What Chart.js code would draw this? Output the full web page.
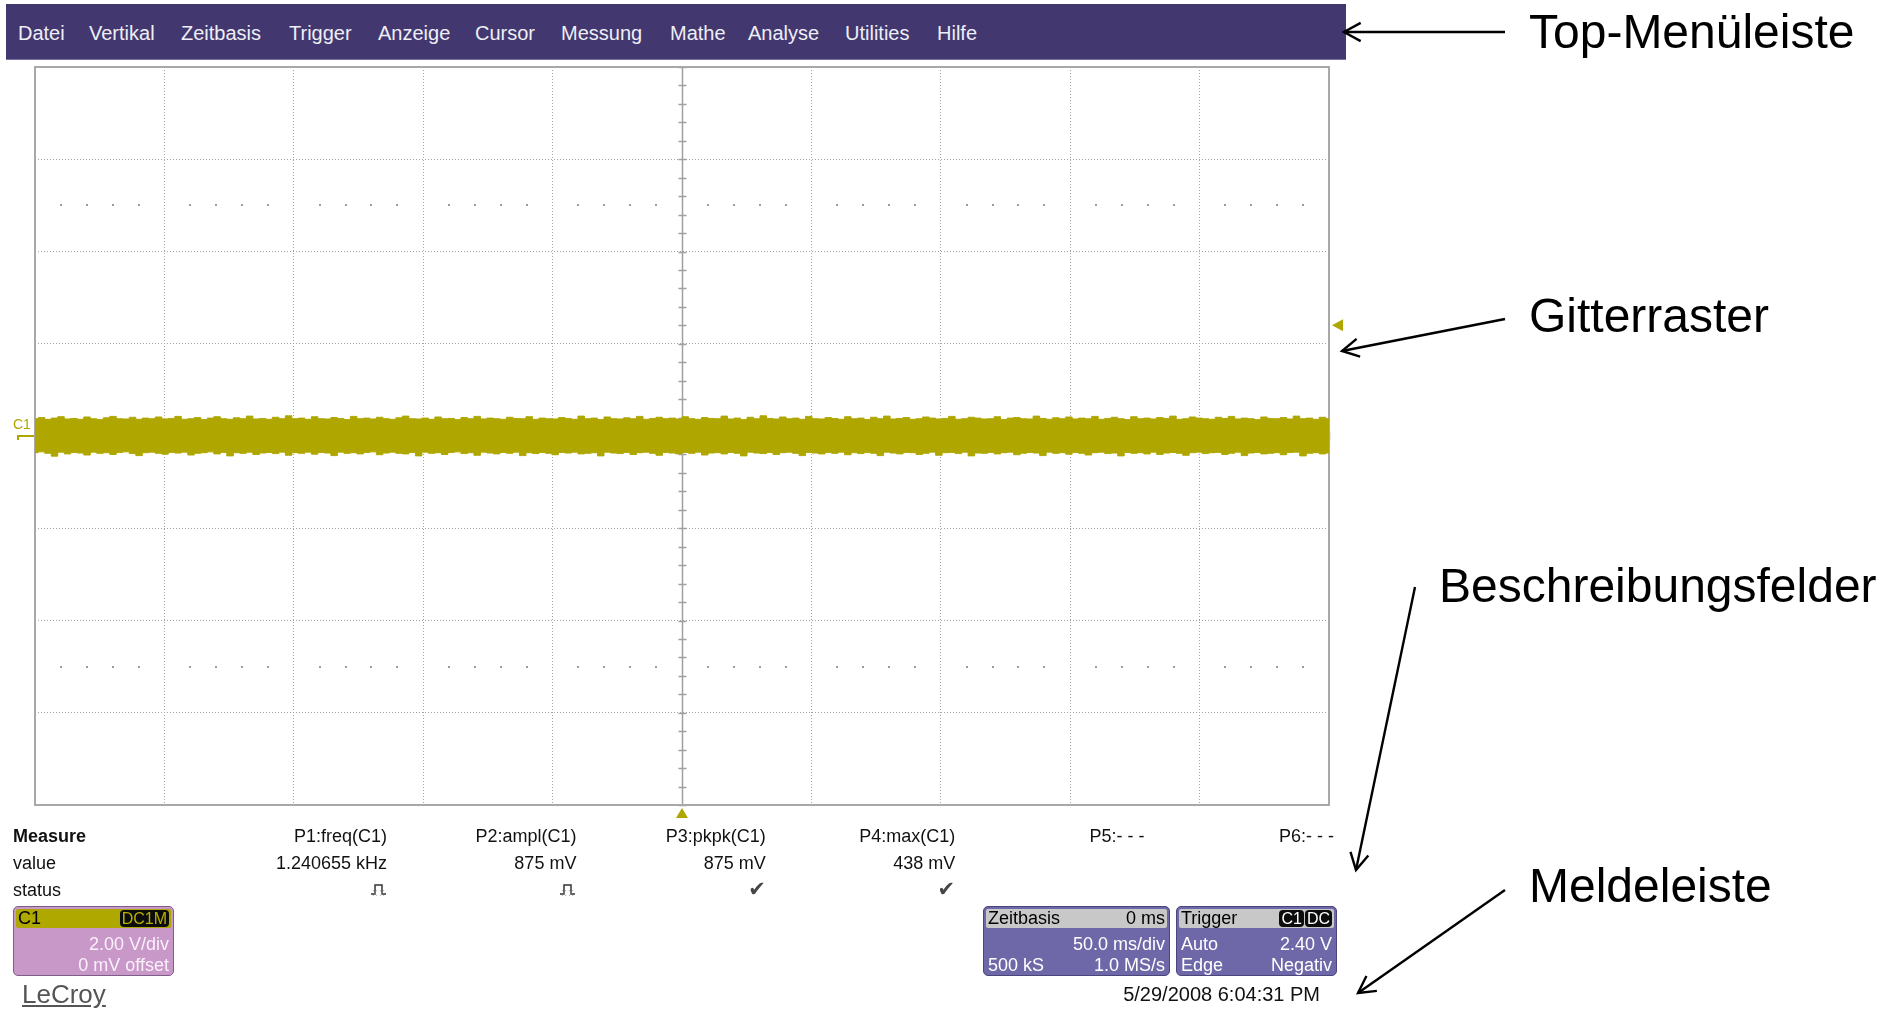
<!DOCTYPE html>
<html lang="de">
<head>
<meta charset="utf-8">
<title>Oszilloskop-Bildschirm</title>
<script src="https://cdn.jsdelivr.net/npm/chart.js@4.4.1/dist/chart.umd.min.js"></script>
<style>
  html, body { margin: 0; padding: 0; background: #ffffff; }
  body { position: relative; width: 1885px; height: 1009px; overflow: hidden;
         font-family: "Liberation Sans", Arial, Helvetica, sans-serif; }
  #scope { position: absolute; left: 0; top: 0; }
  #overlay { position: absolute; left: 0; top: 0; width: 1885px; height: 1009px; pointer-events: none; }
  .t { position: absolute; white-space: nowrap; }
  #menubar { position: absolute; left: 6px; top: 4px; width: 1340px; height: 56px;
             background: #42376f; border-bottom: 1px solid #776ea6; box-sizing: border-box; }
  .menu { top: 17px; font-size: 20px; line-height: 24px; color: #eeeef6; }
  .m { font-size: 18px; line-height: 20px; height: 20px; color: #111; }
  .m.b { font-weight: bold; }
  .m.date { font-size: 20px; }
  .note { font-size: 48px; line-height: 48px; color: #000; }
  .chk { font-family: "DejaVu Sans", sans-serif; font-size: 21px; color: #464646; }
  .panel { position: absolute; top: 906px; height: 70px; border-radius: 5px; box-sizing: border-box; }
  .panel .hdr { position: absolute; left: 2px; right: 2px; top: 2px; height: 19px; line-height: 19px;
                font-size: 18px; color: #000; display: flex; justify-content: space-between;
                padding: 0 2px; border-radius: 2px; }
  .panel .row { position: absolute; left: 2px; right: 2px; height: 20px; line-height: 20px;
                font-size: 18px; display: flex; justify-content: space-between; padding: 0 2px; }
  .badge { display: inline-block; background: #0c0c0c; border-radius: 4px; padding: 0 2px;
           font-size: 16px; line-height: 17px; height: 17px; margin-top: 1px; margin-left: 1px; }
  #c1panel { left: 13px; width: 161px; background: #c898c8; border: 1px solid #7e5e88; }
  #c1panel .hdr { background: #afa800; }
  #c1panel .row { color: #fbf0fb; justify-content: flex-end; }
  #c1panel .badge { color: #b8b000; }
  #tbpanel { left: 983px; width: 187px; background: #6f68a8; border: 1px solid #4b457e; }
  #trpanel { left: 1176px; width: 161px; background: #6f68a8; border: 1px solid #4b457e; }
  #tbpanel .hdr, #trpanel .hdr { background: #c8c8c8; }
  #tbpanel .row, #trpanel .row { color: #ffffff; }
  #trpanel .badge { color: #ffffff; }
  #logo { left: 22px; top: 981px; font-size: 26px; line-height: 26px; color: #555555; text-decoration: underline; }
</style>
</head>
<body>
<canvas id="scope" width="1885" height="1009"></canvas>
<div id="menubar"></div>
<div id="c1panel" class="panel"></div>
<div id="tbpanel" class="panel"></div>
<div id="trpanel" class="panel"></div>
<div id="logo" class="t">LeCroy</div>
<svg id="overlay" xmlns="http://www.w3.org/2000/svg"></svg>
<script>
// ---------- Instrument settings ----------
const msPerDiv = 50;            // Zeitbasis 50.0 ms/div
const voltsPerDiv = 2;          // C1 2.00 V/div
const hDivs = 10;
const vDivs = 8;
const offsetMv = 0;             // C1 offset
const triggerLevelV = 2.40;     // Trigger level
const triggerDelayMs = 0;       // Zeitbasis delay
const sampleCount = '500 kS';
const sampleRate = '1.0 MS/s';
const couplingC1 = 'DC1M';
const triggerMode = 'Auto';
const triggerType = 'Edge';
const triggerSlope = 'Negativ';
const triggerBadges = ['C1', 'DC'];
const timestamp = '5/29/2008 6:04:31 PM';

// ---------- Menu ----------
const menuItems = ['Datei', 'Vertikal', 'Zeitbasis', 'Trigger', 'Anzeige', 'Cursor',
                   'Messung', 'Mathe', 'Analyse', 'Utilities', 'Hilfe'];

// ---------- Measurements ----------
const measureNames  = ['P1:freq(C1)', 'P2:ampl(C1)', 'P3:pkpk(C1)', 'P4:max(C1)', 'P5:- - -', 'P6:- - -'];
const measureValues = ['1.240655 kHz', '875 mV', '875 mV', '438 mV', '', ''];
const measureStatus = ['pulse', 'pulse', 'ok', 'ok', '', ''];
const measureRows   = ['Measure', 'value', 'status'];

// ---------- C1 trace: max / min envelope per display column group (mV) ----------
const traceTopMv = [
  375, 400, 362, 388, 418, 369, 381, 362, 412, 375, 356, 394, 425, 375, 369, 406, 362, 388, 375, 412,
  369, 381, 425, 362, 375, 400, 356, 388, 418, 375, 362, 394, 375, 431, 369, 381, 362, 406, 375, 438,
  375, 388, 362, 418, 375, 369, 400, 381, 356, 425, 375, 388, 369, 406, 375, 362, 394, 431, 375, 369,
  388, 362, 412, 375, 381, 356, 400, 375, 425, 369, 388, 375, 362, 406, 381, 375, 418, 362, 388, 375,
  369, 400, 381, 362, 431, 375, 388, 356, 412, 375, 369, 394, 375, 425, 362, 381, 406, 375, 388, 369,
  418, 375, 362, 400, 381, 375, 431, 369, 388, 356, 406, 375, 438, 381, 369, 412, 375, 388, 362, 425,
  375, 369, 400, 381, 362, 418, 375, 388, 356, 406, 375, 431, 369, 381, 400, 362, 375, 412, 388, 369,
  381, 425, 362, 375, 406, 388, 369, 375, 418, 356, 388, 400, 375, 369, 431, 381, 362, 394, 375, 412,
  369, 388, 375, 425, 362, 381, 406, 375, 356, 418, 375, 388, 369, 400, 381, 431, 362, 375, 412, 388,
  375, 362, 406, 381, 425, 369, 388, 375, 356, 412, 381, 375, 400, 369, 431, 375, 388, 362, 406, 375
];
const traceBottomMv = [
  -362, -344, -375, -437, -350, -388, -356, -369, -412, -350, -375, -362, -400, -356, -344, -381, -425, -362, -350, -375,
  -394, -356, -369, -350, -412, -375, -362, -344, -388, -356, -431, -362, -375, -350, -400, -369, -356, -381, -350, -418,
  -362, -375, -350, -394, -356, -369, -425, -350, -375, -362, -388, -356, -344, -406, -369, -350, -375, -388, -356, -431,
  -350, -375, -362, -400, -356, -344, -381, -362, -418, -350, -369, -388, -356, -375, -350, -425, -362, -381, -356, -375,
  -406, -356, -369, -350, -388, -375, -362, -431, -350, -369, -381, -356, -400, -362, -350, -375, -418, -356, -369, -388,
  -356, -375, -350, -412, -369, -362, -388, -356, -375, -431, -350, -369, -381, -356, -400, -362, -350, -375, -425, -356,
  -369, -388, -356, -375, -350, -406, -362, -381, -356, -375, -425, -350, -369, -388, -356, -362, -400, -375, -350, -418,
  -362, -356, -381, -350, -431, -369, -375, -356, -388, -362, -350, -406, -375, -356, -369, -425, -350, -375, -362, -394,
  -356, -375, -412, -362, -350, -381, -369, -431, -356, -375, -362, -388, -350, -400, -369, -356, -375, -418, -362, -350,
  -381, -362, -356, -400, -375, -350, -425, -369, -356, -388, -375, -362, -406, -356, -350, -431, -375, -362, -388, -369
];

// ---------- Callout labels ----------
const callouts = ['Top-Menüleiste', 'Gitterraster', 'Beschreibungsfelder', 'Meldeleiste'];

// ================= layout =================
const TRACE = '#afa700';
const GRID = '#a2a2a2';
const FRAME = '#a8a8a8';

const menuLeft = [18, 89, 181, 289, 378, 475, 561, 670, 748, 845, 937];
const colRight0 = 387, colStep = 189.4;
const rowTop = [826, 853, 880];
const calloutPos = [[1529, 8], [1529, 292], [1439, 562], [1529, 862]];
const arrows = [
  [1505, 32, 1344, 32],
  [1505, 319, 1342, 351],
  [1415, 587, 1356, 870],
  [1505, 890, 1358, 993]
];

function put(parent, text, cls, css) {
  const el = document.createElement('div');
  el.className = 't ' + cls;
  el.textContent = text;
  Object.assign(el.style, css);
  parent.appendChild(el);
  return el;
}

// menu bar
const bar = document.getElementById('menubar');
menuItems.forEach((name, i) => put(bar, name, 'menu', { left: (menuLeft[i] - 6) + 'px' }));

// measurement table
measureRows.forEach((r, i) => put(document.body, r, 'm' + (i === 0 ? ' b' : ''), { left: '13px', top: rowTop[i] + 'px' }));
const pulseSvg = '<svg width="17" height="15" viewBox="0 0 17 15"><polyline points="1,12 5,12 5,3 12,3 12,12 16,12" fill="none" stroke="#333" stroke-width="1.5"/>' +
                 '<path d="M3,8 L7,14 M7,8 L3,14 M10,8 L14,14 M14,8 L10,14" stroke="#888" stroke-width="0.8" stroke-dasharray="1,1"/></svg>';
measureNames.forEach((name, k) => {
  const right = (1885 - (colRight0 + k * colStep)) + 'px';
  put(document.body, name, 'm', { right, top: rowTop[0] + 'px' });
  if (measureValues[k]) put(document.body, measureValues[k], 'm', { right, top: rowTop[1] + 'px' });
  if (measureStatus[k] === 'ok') {
    put(document.body, '\u2714', 'm chk', { right, top: (rowTop[2] - 1) + 'px' });
  } else if (measureStatus[k] === 'pulse') {
    const el = put(document.body, '', 'm', { right, top: (rowTop[2] + 1) + 'px' });
    el.innerHTML = pulseSvg;
  }
});

// descriptor panels
function panel(id, hdrL, hdrR, rows) {
  const p = document.getElementById(id);
  const h = document.createElement('div');
  h.className = 'hdr';
  const l = document.createElement('span'); l.textContent = hdrL; h.appendChild(l);
  const r = document.createElement('span');
  hdrR.forEach(x => {
    if (x.badge) { const b = document.createElement('span'); b.className = 'badge'; b.textContent = x.text; r.appendChild(b); }
    else r.appendChild(document.createTextNode(x.text));
  });
  h.appendChild(r);
  p.appendChild(h);
  rows.forEach((row, i) => {
    const d = document.createElement('div');
    d.className = 'row';
    d.style.top = (27 + i * 21) + 'px';
    row.forEach(txt => { const s = document.createElement('span'); s.textContent = txt; d.appendChild(s); });
    p.appendChild(d);
  });
}
panel('c1panel', 'C1', [{ text: couplingC1, badge: true }],
      [[voltsPerDiv.toFixed(2) + ' V/div'], [offsetMv + ' mV offset']]);
panel('tbpanel', 'Zeitbasis', [{ text: triggerDelayMs + ' ms' }],
      [['', (msPerDiv).toFixed(1) + ' ms/div'], [sampleCount, sampleRate]]);
panel('trpanel', 'Trigger', triggerBadges.map(b => ({ text: b, badge: true })),
      [[triggerMode, triggerLevelV.toFixed(2) + ' V'], [triggerType, triggerSlope]]);

put(document.body, timestamp, 'm date', { right: (1885 - 1320) + 'px', top: '984px' });

// callouts and arrows
callouts.forEach((c, i) => put(document.body, c, 'note', { left: calloutPos[i][0] + 'px', top: calloutPos[i][1] + 'px' }));
const svg = document.getElementById('overlay');
let svgHtml = '';
arrows.forEach(([x1, y1, x2, y2]) => {
  const a = Math.atan2(y1 - y2, x1 - x2), L = 19, w = 0.5;
  const p1 = [x2 + L * Math.cos(a + w), y2 + L * Math.sin(a + w)];
  const p2 = [x2 + L * Math.cos(a - w), y2 + L * Math.sin(a - w)];
  svgHtml += `<line x1="${x1}" y1="${y1}" x2="${x2}" y2="${y2}" stroke="#000" stroke-width="2.4"/>` +
             `<polyline points="${p1[0]},${p1[1]} ${x2},${y2} ${p2[0]},${p2[1]}" fill="none" stroke="#000" stroke-width="2.4"/>`;
});
svg.innerHTML = svgHtml;

// ================= scope grid + trace =================
const halfSpanMs = msPerDiv * hDivs / 2;
const halfRangeV = voltsPerDiv * vDivs / 2;
const N = traceTopMv.length;
const tAt = i => -halfSpanMs + i * (2 * halfSpanMs) / (N - 1);
const topPts = traceTopMv.map((mv, i) => ({ x: tAt(i), y: mv / 1000 }));
const botPts = traceBottomMv.map((mv, i) => ({ x: tAt(i), y: mv / 1000 }));

const scopeDecor = {
  id: 'scopeDecor',
  beforeDatasetsDraw(chart) {
    const { ctx, chartArea: a, scales: { x, y } } = chart;
    ctx.save();
    // subdivision dot rows
    ctx.fillStyle = '#9c9c9c';
    [2.5 * voltsPerDiv, -2.5 * voltsPerDiv].forEach(v => {
      const py = Math.round(y.getPixelForValue(v));
      for (let k = -hDivs * 5 / 2; k <= hDivs * 5 / 2; k++) {
        if (k % 5 === 0) continue;
        const px = Math.round(x.getPixelForValue(k * msPerDiv / 5));
        ctx.fillRect(px - 1, py - 1, 2, 2);
      }
    });
    // centre axes with minor ticks
    ctx.strokeStyle = '#a0a0a0';
    ctx.lineWidth = 1.5;
    const cx = Math.round(x.getPixelForValue(0)) + 0.5;
    const cy = Math.round(y.getPixelForValue(0)) + 0.5;
    ctx.beginPath();
    ctx.moveTo(cx, a.top); ctx.lineTo(cx, a.bottom);
    ctx.moveTo(a.left, cy); ctx.lineTo(a.right, cy);
    for (let k = -vDivs * 5 / 2; k <= vDivs * 5 / 2; k++) {
      const py = Math.round(y.getPixelForValue(k * voltsPerDiv / 5)) + 0.5;
      ctx.moveTo(cx - 4, py); ctx.lineTo(cx + 4, py);
    }
    for (let k = -hDivs * 5 / 2; k <= hDivs * 5 / 2; k++) {
      const px = Math.round(x.getPixelForValue(k * msPerDiv / 5)) + 0.5;
      ctx.moveTo(px, cy - 4); ctx.lineTo(px, cy + 4);
    }
    ctx.stroke();
    // frame
    ctx.strokeStyle = FRAME;
    ctx.lineWidth = 2;
    ctx.strokeRect(a.left, a.top, a.right - a.left, a.bottom - a.top);
    ctx.restore();
  },
  afterDraw(chart) {
    const { ctx, chartArea: a, scales: { x, y } } = chart;
    ctx.save();
    ctx.fillStyle = TRACE;
    ctx.strokeStyle = TRACE;
    // channel ground marker
    const gy = Math.round(y.getPixelForValue(offsetMv / 1000));
    ctx.font = '14px "Liberation Sans", Arial, sans-serif';
    ctx.textBaseline = 'alphabetic';
    ctx.fillText('C1', a.left - 22, gy - 7);
    ctx.lineWidth = 2;
    ctx.beginPath();
    ctx.moveTo(a.left - 17, gy + 4); ctx.lineTo(a.left - 17, gy); ctx.lineTo(a.left - 1, gy);
    ctx.stroke();
    // trigger level marker
    const ty = y.getPixelForValue(triggerLevelV);
    ctx.beginPath();
    ctx.moveTo(a.right + 3, ty); ctx.lineTo(a.right + 14, ty - 6); ctx.lineTo(a.right + 14, ty + 6); ctx.closePath();
    ctx.fill();
    // trigger position marker
    const tx = x.getPixelForValue(triggerDelayMs);
    ctx.beginPath();
    ctx.moveTo(tx, a.bottom + 3); ctx.lineTo(tx - 6, a.bottom + 13); ctx.lineTo(tx + 6, a.bottom + 13); ctx.closePath();
    ctx.fill();
    ctx.restore();
  }
};

new Chart(document.getElementById('scope'), {
  type: 'line',
  data: {
    datasets: [
      { label: 'C1', data: topPts, fill: '+1', stepped: 'middle', borderColor: TRACE,
        backgroundColor: TRACE, borderWidth: 1, pointRadius: 0 },
      { label: 'C1 min', data: botPts, fill: false, stepped: 'middle', borderColor: TRACE,
        borderWidth: 1, pointRadius: 0 }
    ]
  },
  options: {
    responsive: false,
    devicePixelRatio: 1,
    animation: false,
    events: [],
    layout: { padding: { left: 35, top: 67, right: 556, bottom: 204 } },
    plugins: { legend: { display: false }, tooltip: { enabled: false } },
    scales: {
      x: { type: 'linear', min: -halfSpanMs, max: halfSpanMs,
           ticks: { display: false, stepSize: msPerDiv },
           grid: { color: GRID, lineWidth: 1, drawTicks: false },
           border: { display: false, dash: [1, 2] } },
      y: { type: 'linear', min: -halfRangeV, max: halfRangeV,
           ticks: { display: false, stepSize: voltsPerDiv },
           grid: { color: GRID, lineWidth: 1, drawTicks: false },
           border: { display: false, dash: [1, 2] } }
    }
  },
  plugins: [scopeDecor]
});
</script>
</body>
</html>
